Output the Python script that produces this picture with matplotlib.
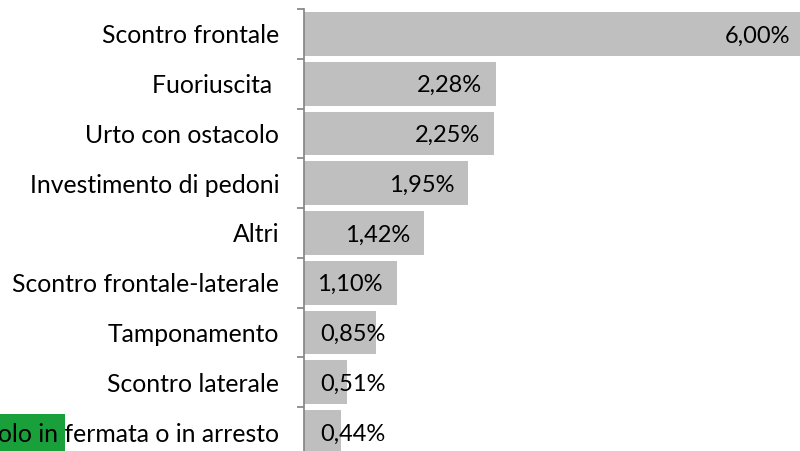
import numpy as np
import matplotlib.pyplot as plt
from matplotlib.transforms import ScaledTranslation

plt.rcParams['font.family'] = ['Lato', 'DejaVu Sans']

# Categories and shares (%), top to bottom
categories = [
    "Scontro frontale",
    "Fuoriuscita ",
    "Urto con ostacolo",
    "Investimento di pedoni",
    "Altri",
    "Scontro frontale-laterale",
    "Tamponamento",
    "Scontro laterale",
    "Urto con veicolo in fermata o in arresto",
]
values = [6.00, 2.28, 2.25, 1.95, 1.42, 1.10, 0.85, 0.51, 0.44]
value_labels = ["6,00%", "2,28%", "2,25%", "1,95%", "1,42%", "1,10%", "0,85%", "0,51%", "0,44%"]

W, H, DPI = 800, 452, 100
fig = plt.figure(figsize=(W / DPI, H / DPI), dpi=DPI)

# axis line at x=304px, plot runs off the right and bottom edges
left_px, top_px, bottom_px = 304, 10, 458
ax = fig.add_axes([left_px / W, (H - bottom_px) / H, (W - left_px) / W, (bottom_px - top_px) / H])

n = len(categories)
y = np.arange(n)
ax.barh(y, values, height=0.88, color="#BFBFBF", zorder=2)

ax.set_ylim(n - 0.5, -0.5)
ax.set_xlim(0, 5.88)

for s in ["top", "right", "bottom"]:
    ax.spines[s].set_visible(False)
ax.spines["left"].set_color("#868686")
ax.spines["left"].set_linewidth(1.25)
ax.set_xticks([])
ax.set_yticks([])
ax.set_yticks(np.arange(n + 1) - 0.5, minor=True)
ax.tick_params(axis="y", which="minor", length=5, width=1.25, color="#868686", labelleft=False)

fs_cat = 17.8
fs_val = 17
px = 1 / DPI

# category labels
lab_tr = ax.get_yaxis_transform() + ScaledTranslation(-25 * px, -1 * px, fig.dpi_scale_trans)
for yi, cat in zip(y[:-1], categories[:-1]):
    ax.text(0, yi, cat, transform=lab_tr, ha="right", va="center", fontsize=fs_cat, color="black")

# last label: highlighted leading part
rest = ax.text(0, y[-1], " fermata o in arresto", transform=lab_tr, ha="right", va="center",
               fontsize=fs_cat, color="black")
ax.annotate("Urto con veicolo in", xy=(0, 0.5), xycoords=rest, ha="right", va="center",
            fontsize=fs_cat, color="black",
            bbox=dict(boxstyle="square,pad=0.3", facecolor="#1AA03A", edgecolor="none"))

# value labels inside the bar end
xmax = ax.get_xlim()[1]
for yi, v, t in zip(y, values, value_labels):
    if v < 1.0:
        tr = ax.transData + ScaledTranslation(16 * px, -1 * px, fig.dpi_scale_trans)
        ax.text(0, yi, t, transform=tr, ha="left", va="center", fontsize=fs_val, color="black", zorder=3)
    else:
        shift = -10 if v > xmax else -14
        tr = ax.transData + ScaledTranslation(shift * px, -1 * px, fig.dpi_scale_trans)
        ax.text(min(v, xmax), yi, t, transform=tr, ha="right", va="center", fontsize=fs_val,
                color="black", zorder=3)

fig.savefig("out.png", dpi=DPI)
